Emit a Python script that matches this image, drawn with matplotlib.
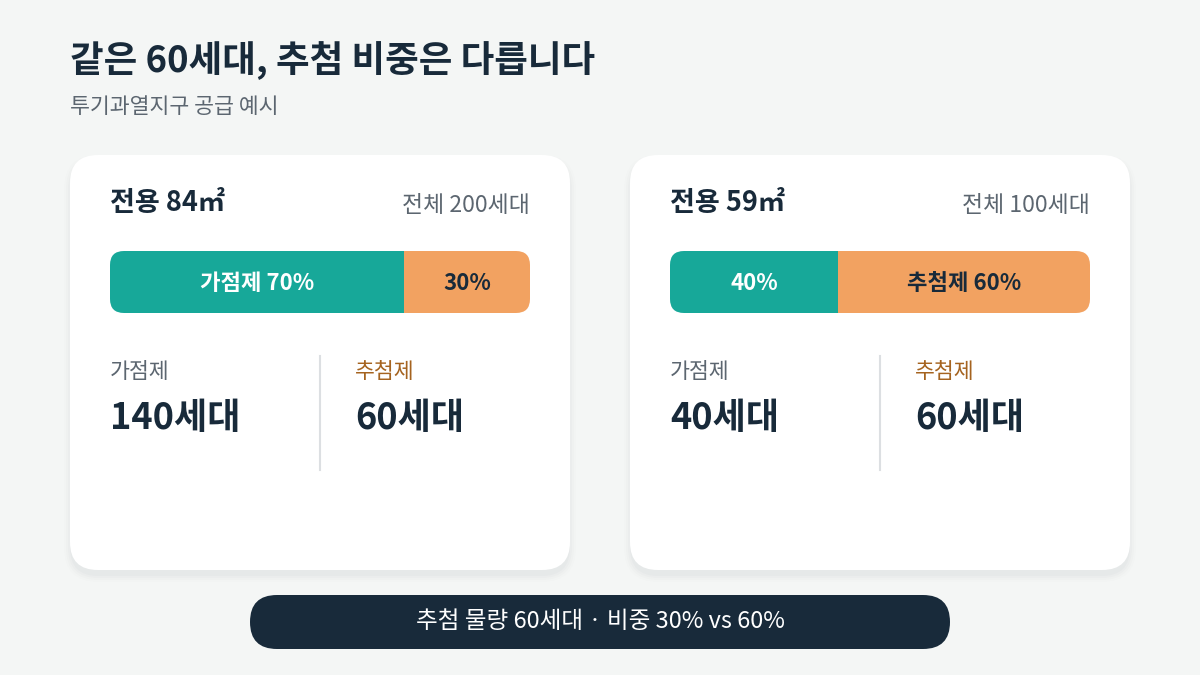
import matplotlib
matplotlib.use("Agg")
import matplotlib.pyplot as plt
from matplotlib.patches import FancyBboxPatch

plt.rcParams['font.family'] = ['Noto Sans CJK KR', 'DejaVu Sans']

# 데이터
title = "같은 60세대, 추첨 비중은 다릅니다"
subtitle = "투기과열지구 공급 예시"
card_names = ["전용 84㎡", "전용 59㎡"]
totals = [200, 100]
gajeom_pct = [70, 40]
chucheom_pct = [30, 60]
footer = "추첨 물량 60세대 · 비중 30% vs 60%"

# 색
BG = "#f4f6f5"
NAVY = "#182a3a"
GRAY = "#5c6670"
TEAL = "#17a899"
ORANGE = "#f2a261"
BROWN = "#a5631f"

fig = plt.figure(figsize=(12, 6.75), dpi=100, facecolor=BG)
ax = fig.add_axes([0, 0, 1, 1])
ax.set_xlim(0, 1200)
ax.set_ylim(675, 0)
ax.axis("off")
ax.set_facecolor(BG)


def rbox(x, y, w, h, r, **kw):
    p = FancyBboxPatch((x + r, y + r), w - 2 * r, h - 2 * r,
                       boxstyle=f"round,pad={r}", **kw)
    ax.add_patch(p)
    return p


ax.text(70, 61, title, fontsize=26.3, fontweight="bold", color=NAVY, va="center")
ax.text(70, 107, subtitle, fontsize=15.6, color=GRAY, va="center")

for i, name in enumerate(card_names):
    x0 = 70 + i * 560
    # 그림자
    for k, a in enumerate([0.018, 0.014, 0.010, 0.007]):
        rbox(x0 - k * 2, 157 - k * 2 + 4, 500 + k * 4, 415 + k * 4, 28 + k * 2,
             facecolor="#1b2b3c", edgecolor="none", alpha=a, zorder=1)
    rbox(x0, 155, 500, 415, 28, facecolor="white", edgecolor="none", zorder=2)

    ax.text(x0 + 40, 203, name, fontsize=19.5, fontweight="bold", color=NAVY,
            va="center", zorder=3)
    ax.text(x0 + 460, 205, f"전체 {totals[i]}세대", fontsize=16.5, color=GRAY,
            va="center", ha="right", zorder=3)

    # 비율 막대
    bx, bw = x0 + 40, 420
    g, c = gajeom_pct[i], chucheom_pct[i]
    clip = rbox(bx, 251, bw, 62, 14, facecolor="none", edgecolor="none", zorder=3)
    bars = ax.barh([282], [g * bw / 100, c * bw / 100],
                   left=[bx, bx + g * bw / 100], height=62,
                   color=[TEAL, ORANGE], zorder=3)
    for b in bars:
        b.set_clip_path(clip)
    g_lab = f"가점제 {g}%" if g >= c else f"{g}%"
    c_lab = f"추첨제 {c}%" if c > g else f"{c}%"
    ax.text(bx + g * bw / 200, 283, g_lab, fontsize=16, fontweight="bold",
            color="white", ha="center", va="center", zorder=4)
    ax.text(bx + g * bw / 100 + c * bw / 200, 283, c_lab, fontsize=16,
            fontweight="bold", color=NAVY, ha="center", va="center", zorder=4)

    # 세대수
    ax.text(x0 + 40, 372, "가점제", fontsize=15.6, color=GRAY, va="center", zorder=3)
    ax.text(x0 + 40, 418, f"{totals[i] * g // 100}세대", fontsize=26,
            fontweight="bold", color=NAVY, va="center", zorder=3)
    ax.plot([x0 + 250, x0 + 250], [356, 470], color="#dcdfe2", lw=1.5, zorder=3)
    ax.text(x0 + 285, 372, "추첨제", fontsize=15.6, color=BROWN, va="center", zorder=3)
    ax.text(x0 + 285, 418, f"{totals[i] * c // 100}세대", fontsize=26,
            fontweight="bold", color=NAVY, va="center", zorder=3)

rbox(250, 595, 700, 54, 27, facecolor=NAVY, edgecolor="none", zorder=2)
ax.text(600, 622, footer, fontsize=17, color="white", ha="center",
        va="center", zorder=3)

fig.savefig("out.png", dpi=100, facecolor=BG)
